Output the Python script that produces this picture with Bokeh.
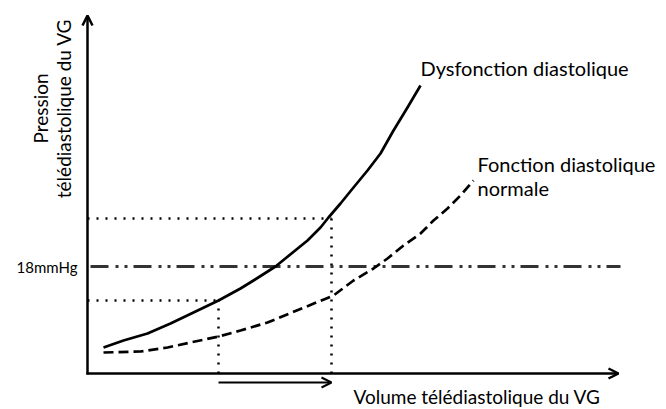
from bokeh.plotting import figure
from bokeh.models import Range1d, Arrow, OpenHead, Label
from bokeh.embed import file_html
from bokeh.resources import INLINE

# Schematic data (arbitrary units: volume on x, pressure on y)
dys_volume = [16, 36, 60, 83, 106, 131, 153, 166, 188, 220, 233, 241, 253, 266, 280, 293, 306, 320, 333]
dys_pressure = [26, 33, 40, 50, 61, 73, 85, 93, 107, 133, 146, 156, 170, 186, 203, 220, 243, 266, 288]

norm_volume = [16, 53, 80, 103, 131, 153, 180, 246, 266, 286, 300, 316, 333, 346, 360, 373, 386]
norm_pressure = [21, 22, 26, 31, 37, 43, 51, 78, 93, 105, 115, 128, 140, 153, 165, 178, 193]

ref_pressure = 107          # 18 mmHg level
vol_low, vol_high = 131, 244
p_low, p_high = 73, 155
x_max, y_max = 531, 358

FONT = "Lato"

p = figure(width=666, height=409, output_backend="svg", toolbar_location=None,
           x_range=Range1d(-87, 579), y_range=Range1d(-36, 373),
           min_border=0)
p.axis.visible = False
p.grid.visible = False
p.outline_line_color = None

# axes with arrowheads
p.add_layout(Arrow(end=OpenHead(size=10, line_width=2.5, line_color="black"),
                   x_start=0, y_start=-1, x_end=0, y_end=y_max,
                   line_width=2.5, line_color="black"))
p.add_layout(Arrow(end=OpenHead(size=10, line_width=2.5, line_color="black"),
                   x_start=-1, y_start=0, x_end=x_max, y_end=0,
                   line_width=2.5, line_color="black"))

# dotted guides
dot = dict(line_dash="2 7", line_width=2.5, line_color="black")
p.line([0, vol_high], [p_high, p_high], **dot)
p.line([0, vol_low], [p_low, p_low], **dot)
p.line([vol_low, vol_low], [0, p_low], **dot)
p.line([vol_high, vol_high], [0, p_high], **dot)

# 18 mmHg dash-dot line
p.line([3, 533], [ref_pressure, ref_pressure], line_dash="18 7 3 6 3 6",
       line_width=3, line_color="#333333")

# curves
p.line(dys_volume, dys_pressure, line_width=2.7, line_color="black", line_join="round")
p.line(norm_volume, norm_pressure, line_width=2.7, line_color="black", line_dash="10 5")

# shift arrow below axis
p.add_layout(Arrow(end=OpenHead(size=10, line_width=2, line_color="black"),
                   x_start=vol_low, y_start=-9, x_end=vol_high, y_end=-9,
                   line_width=2, line_color="black"))

# labels
def lab(x, y, t, size, align="left", angle=0.0, baseline="middle"):
    p.add_layout(Label(x=x, y=y, text=t, text_font=FONT, text_font_size=size,
                       text_align=align, text_baseline=baseline, angle=angle,
                       text_color="black"))

lab(333, 306, "Dysfonction diastolique", "20px")
lab(390, 210, "Fonction diastolique", "20px")
lab(390, 186, "normale", "20px")
lab(-10, ref_pressure, "18mmHg", "15px", align="right")
lab(266, -34, "Volume télédiastolique du VG", "19px", baseline="bottom")
lab(-47, 265, "Pression", "19px", align="center", angle=1.5708)
lab(-24, 265, "télédiastolique du VG", "19px", align="center", angle=1.5708)

open("out.html", "w").write(file_html(p, INLINE))
